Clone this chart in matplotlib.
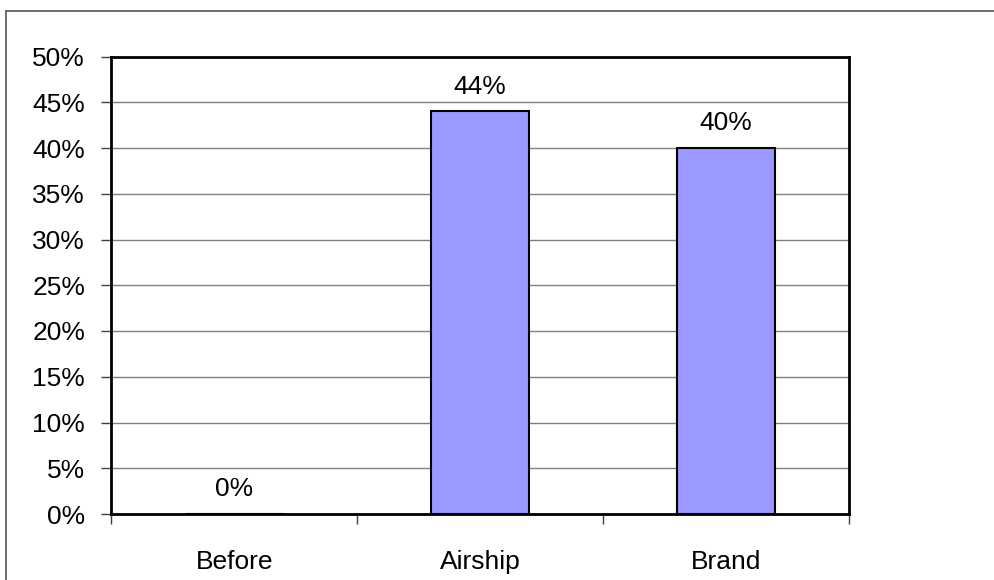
import matplotlib.pyplot as plt
from matplotlib.ticker import PercentFormatter, FixedLocator
import matplotlib.patches as mpatches

plt.rcParams['font.family'] = ['Liberation Sans', 'DejaVu Sans']

# datos
categorias = ['Before', 'Airship', 'Brand']
valores = [0, 44, 40]

fig = plt.figure(figsize=(9.95, 5.8), dpi=100)
ax = fig.add_axes([111.5 / 995, 1 - 514 / 580, (849 - 111.5) / 995, (514 - 56.5) / 580])

# borde exterior del grafico
fig.patches.append(mpatches.Rectangle((5.5 / 995, -0.1), 1.2, 1 - 10.5 / 580 + 0.1,
                                      transform=fig.transFigure, fill=False,
                                      edgecolor='#606060', linewidth=1.3))

x = range(len(categorias))
ax.bar(x, valores, width=0.4, color='#9999FF', edgecolor='black', linewidth=1.5, zorder=3)

for xi, v in zip(x, valores):
    ax.annotate(f'{v}%', (xi, v), xytext=(0, 9), textcoords='offset points',
                ha='center', va='bottom', fontsize=19)

ax.set_xlim(-0.5, 2.5)
ax.set_ylim(0, 50)
ax.set_yticks(range(0, 51, 5))
ax.yaxis.set_major_formatter(PercentFormatter(decimals=0))
ax.grid(axis='y', color='#808080', linewidth=1, zorder=0)

# ticks del eje x entre categorias, etiquetas centradas
ax.xaxis.set_major_locator(FixedLocator([-0.5, 0.5, 1.5, 2.5]))
ax.xaxis.set_major_formatter(plt.NullFormatter())
ax.xaxis.set_minor_locator(FixedLocator([0, 1, 2]))
ax.set_xticklabels(categorias, minor=True)
ax.tick_params(axis='x', which='minor', length=0, pad=26, labelsize=19)
ax.tick_params(axis='x', which='major', length=7, width=1, color='#404040')
ax.tick_params(axis='y', length=7, width=1, color='#404040', labelsize=19, pad=12)

for s in ax.spines.values():
    s.set_linewidth(2)
    s.set_color('black')

plt.savefig('out.png', dpi=100)
